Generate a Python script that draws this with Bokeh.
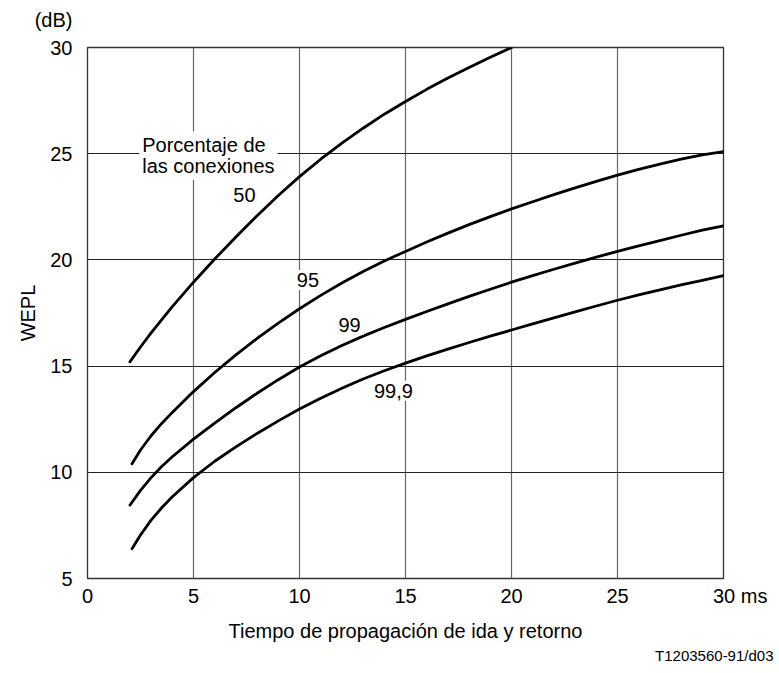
from bokeh.plotting import figure
from bokeh.models import Range1d, Label, FixedTicker, Title
from bokeh.embed import file_html
from bokeh.resources import INLINE

# Data
x_50 = [2, 2.5, 3, 4, 5, 6, 7, 8, 9, 10, 11, 12, 13, 14, 15, 16, 17, 18, 19, 20]
y_50 = [15.2, 15.9, 16.56, 17.8, 18.95, 20.04, 21.08, 22.08, 23.03, 23.92,
        24.74, 25.5, 26.2, 26.86, 27.46, 28.03, 28.56, 29.06, 29.54, 30.0]

x_95 = [2.1, 2.5, 3, 3.5, 4, 5, 6, 7, 8, 9, 10, 11, 12, 13, 14, 15, 16, 17, 18,
        19, 20, 21, 22, 23, 24, 25, 26, 27, 28, 29, 30]
y_95 = [10.4, 11.05, 11.72, 12.3, 12.82, 13.8, 14.7, 15.53, 16.3, 17.02, 17.7,
        18.33, 18.91, 19.45, 19.95, 20.4, 20.84, 21.26, 21.66, 22.04, 22.4,
        22.74, 23.07, 23.39, 23.7, 23.99, 24.26, 24.51, 24.74, 24.94, 25.1]

x_99 = [2, 2.5, 3, 3.5, 4, 5, 6, 7, 8, 9, 10, 11, 12, 13, 14, 15, 16, 17, 18,
        19, 20, 21, 22, 23, 24, 25, 26, 27, 28, 29, 30]
y_99 = [8.45, 9.15, 9.75, 10.27, 10.73, 11.56, 12.32, 13.04, 13.72, 14.36,
        14.96, 15.49, 15.97, 16.41, 16.82, 17.2, 17.57, 17.93, 18.28, 18.62,
        18.95, 19.26, 19.56, 19.85, 20.13, 20.4, 20.66, 20.91, 21.16, 21.4,
        21.6]

x_999 = [2.1, 2.5, 3, 3.5, 4, 5, 6, 7, 8, 9, 10, 11, 12, 13, 14, 15, 16, 17,
         18, 19, 20, 21, 22, 23, 24, 25, 26, 27, 28, 29, 30]
y_999 = [6.4, 7.05, 7.75, 8.33, 8.85, 9.75, 10.52, 11.2, 11.83, 12.42, 12.98,
         13.49, 13.96, 14.39, 14.78, 15.14, 15.48, 15.8, 16.11, 16.41, 16.7,
         16.99, 17.27, 17.55, 17.83, 18.1, 18.35, 18.59, 18.82, 19.04, 19.26]

x_ticks = [0, 5, 10, 15, 20, 25, 30]
y_ticks = [5, 10, 15, 20, 25, 30]
x_unit = "ms"
y_unit = "(dB)"
x_title = "Tiempo de propagación de ida y retorno"
y_title = "WEPL"
caption = "T1203560-91/d03"

FONT = "Liberation Sans"
FS = "20px"
NB = "\u00A0"

p = figure(frame_width=636, frame_height=531, output_backend="svg",
           toolbar_location=None,
           x_range=Range1d(0, 30), y_range=Range1d(5, 30),
           min_border_left=87, min_border_top=47, min_border_right=54,
           min_border_bottom=94)

p.outline_line_color = "#333333"
p.outline_line_width = 1.3
p.background_fill_color = "white"
p.border_fill_color = "white"

p.xaxis.ticker = FixedTicker(ticks=x_ticks)
p.yaxis.ticker = FixedTicker(ticks=y_ticks)
# units sit next to the last tick labels
p.xaxis.major_label_overrides = {30: NB * 6 + "30" + NB + x_unit}
p.yaxis.major_label_overrides = {30: y_unit + "\n30\n" + NB}
p.yaxis.major_label_text_line_height = 1.27
for ax in (p.xaxis[0], p.yaxis[0]):
    ax.axis_line_color = None
    ax.major_tick_line_color = None
    ax.minor_tick_line_color = None
    ax.major_tick_in = 0
    ax.major_tick_out = 0
    ax.minor_tick_in = 0
    ax.minor_tick_out = 0
    ax.major_label_text_font = FONT
    ax.major_label_text_font_size = FS
    ax.major_label_text_color = "black"
    ax.axis_label_text_font = FONT
    ax.axis_label_text_font_size = FS
    ax.axis_label_text_font_style = "normal"
    ax.axis_label_text_color = "black"

p.xaxis.axis_label = x_title
p.xaxis.major_label_standoff = 6
p.xaxis.axis_label_standoff = 10
p.yaxis.axis_label = y_title
p.yaxis.major_label_standoff = 15
p.yaxis.axis_label_standoff = -7

p.add_layout(Title(text=caption, align="right", offset=-50, standoff=1,
                   text_font=FONT, text_font_size="15px",
                   text_font_style="normal", text_color="black"), "below")

p.xgrid.grid_line_color = "#666666"
p.xgrid.grid_line_width = 1.2
p.ygrid.grid_line_color = "#222222"
p.ygrid.grid_line_width = 1

for xs, ys in ((x_50, y_50), (x_95, y_95), (x_99, y_99), (x_999, y_999)):
    p.line(xs, ys, line_color="black", line_width=2.8, line_cap="round",
           line_join="round")


def lab(text, x, y, align="center", baseline="middle", lh=1.2):
    p.add_layout(Label(x=x, y=y, text=text, text_font=FONT, text_font_size=FS,
                       text_color="black", text_align=align,
                       text_baseline=baseline, background_fill_color="white",
                       padding=3, text_line_height=lh))


lab("Porcentaje de\nlas conexiones", 2.44, 26.05, align="left",
    baseline="top", lh=0.92)
lab("50", 7.4, 23.07)
lab("95", 10.4, 19.06)
lab("99", 12.36, 16.93)
lab("99,9", 14.43, 13.84)

open("out.html", "w").write(file_html(p, INLINE))
